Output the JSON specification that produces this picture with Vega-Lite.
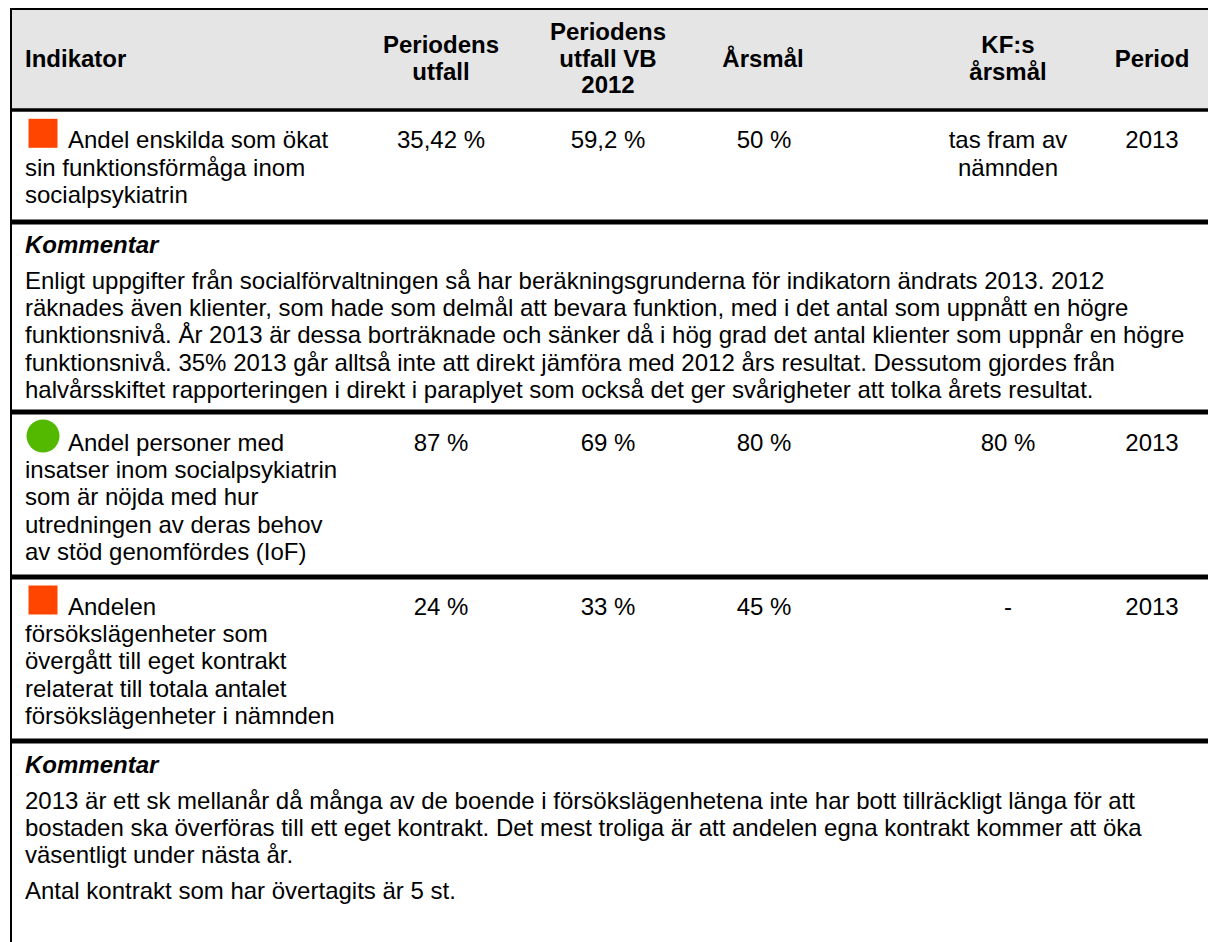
{
  "$schema": "https://vega.github.io/schema/vega-lite/v6.json",
  "width": 1198,
  "height": 934,
  "autosize": {"type": "none"},
  "padding": {"left": 10, "top": 8, "right": 0, "bottom": 0},
  "background": "#ffffff",
  "config": {"view": {"stroke": null}},
  "datasets": {
    "rubrikband": [{"fran": 0, "till": 1}],
    "granser": [
      {"grans": 0, "typ": "ram"},
      {"grans": 1, "typ": "rubrikgrans"},
      {"grans": 2, "typ": "radgrans"},
      {"grans": 3, "typ": "radgrans"},
      {"grans": 4, "typ": "radgrans"},
      {"grans": 5, "typ": "radgrans"}
    ],
    "vansterkant": [{"kant": 0}],
    "rubriker": [
      {"kolumn": 1, "antal_rader": 1, "text": "Indikator"},
      {"kolumn": 2, "antal_rader": 2, "text": "Periodens\nutfall"},
      {"kolumn": 3, "antal_rader": 3, "text": "Periodens\nutfall VB\n2012"},
      {"kolumn": 4, "antal_rader": 1, "text": "Årsmål"},
      {"kolumn": 5, "antal_rader": 2, "text": "KF:s\nårsmål"},
      {"kolumn": 6, "antal_rader": 1, "text": "Period"}
    ],
    "ikoner": [
      {"rad": 4, "kolumn": 1, "status": "Ej uppfyllt"},
      {"rad": 13, "kolumn": 1, "status": "Uppfyllt"},
      {"rad": 18, "kolumn": 1, "status": "Ej uppfyllt"}
    ],
    "celltext": [
      {"rad": 4, "kolumn": 1, "stil": "indikator_forsta", "text": "Andel enskilda som ökat"},
      {"rad": 5, "kolumn": 1, "stil": "brodtext", "text": "sin funktionsförmåga inom"},
      {"rad": 6, "kolumn": 1, "stil": "brodtext", "text": "socialpsykiatrin"},
      {"rad": 4, "kolumn": 2, "stil": "varde", "text": "35,42 %"},
      {"rad": 4, "kolumn": 3, "stil": "varde", "text": "59,2 %"},
      {"rad": 4, "kolumn": 4, "stil": "varde", "text": "50 %"},
      {"rad": 4, "kolumn": 5, "stil": "varde", "text": "tas fram av"},
      {"rad": 5, "kolumn": 5, "stil": "varde", "text": "nämnden"},
      {"rad": 4, "kolumn": 6, "stil": "varde", "text": "2013"},
      {"rad": 7, "kolumn": 1, "stil": "kommentar", "text": "Kommentar"},
      {"rad": 8, "kolumn": 1, "stil": "brodtext", "text": "Enligt uppgifter från socialförvaltningen så har beräkningsgrunderna för indikatorn ändrats 2013. 2012"},
      {"rad": 9, "kolumn": 1, "stil": "brodtext", "text": "räknades även klienter, som hade som delmål att bevara funktion, med i det antal som uppnått en högre"},
      {"rad": 10, "kolumn": 1, "stil": "brodtext", "text": "funktionsnivå. År 2013 är dessa borträknade och sänker då i hög grad det antal klienter som uppnår en högre"},
      {"rad": 11, "kolumn": 1, "stil": "brodtext", "text": "funktionsnivå. 35% 2013 går alltså inte att direkt jämföra med 2012 års resultat. Dessutom gjordes från"},
      {"rad": 12, "kolumn": 1, "stil": "brodtext", "text": "halvårsskiftet rapporteringen i direkt i paraplyet som också det ger svårigheter att tolka årets resultat."},
      {"rad": 13, "kolumn": 1, "stil": "indikator_forsta", "text": "Andel personer med"},
      {"rad": 14, "kolumn": 1, "stil": "brodtext", "text": "insatser inom socialpsykiatrin"},
      {"rad": 15, "kolumn": 1, "stil": "brodtext", "text": "som är nöjda med hur"},
      {"rad": 16, "kolumn": 1, "stil": "brodtext", "text": "utredningen av deras behov"},
      {"rad": 17, "kolumn": 1, "stil": "brodtext", "text": "av stöd genomfördes (IoF)"},
      {"rad": 13, "kolumn": 2, "stil": "varde", "text": "87 %"},
      {"rad": 13, "kolumn": 3, "stil": "varde", "text": "69 %"},
      {"rad": 13, "kolumn": 4, "stil": "varde", "text": "80 %"},
      {"rad": 13, "kolumn": 5, "stil": "varde", "text": "80 %"},
      {"rad": 13, "kolumn": 6, "stil": "varde", "text": "2013"},
      {"rad": 18, "kolumn": 1, "stil": "indikator_forsta", "text": "Andelen"},
      {"rad": 19, "kolumn": 1, "stil": "brodtext", "text": "försökslägenheter som"},
      {"rad": 20, "kolumn": 1, "stil": "brodtext", "text": "övergått till eget kontrakt"},
      {"rad": 21, "kolumn": 1, "stil": "brodtext", "text": "relaterat till totala antalet"},
      {"rad": 22, "kolumn": 1, "stil": "brodtext", "text": "försökslägenheter i nämnden"},
      {"rad": 18, "kolumn": 2, "stil": "varde", "text": "24 %"},
      {"rad": 18, "kolumn": 3, "stil": "varde", "text": "33 %"},
      {"rad": 18, "kolumn": 4, "stil": "varde", "text": "45 %"},
      {"rad": 18, "kolumn": 5, "stil": "varde", "text": "-"},
      {"rad": 18, "kolumn": 6, "stil": "varde", "text": "2013"},
      {"rad": 23, "kolumn": 1, "stil": "kommentar", "text": "Kommentar"},
      {"rad": 24, "kolumn": 1, "stil": "brodtext", "text": "2013 är ett sk mellanår då många av de boende i försökslägenhetena inte har bott tillräckligt länga för att"},
      {"rad": 25, "kolumn": 1, "stil": "brodtext", "text": "bostaden ska överföras till ett eget kontrakt. Det mest troliga är att andelen egna kontrakt kommer att öka"},
      {"rad": 26, "kolumn": 1, "stil": "brodtext", "text": "väsentligt under nästa år."},
      {"rad": 27, "kolumn": 1, "stil": "brodtext", "text": "Antal kontrakt som har övertagits är 5 st."}
    ]
  },
  "layer": [
    {
      "data": {"name": "rubrikband"},
      "mark": {"type": "rect", "color": "#e5e5e5"},
      "encoding": {
        "y": {"field": "fran", "type": "quantitative", "axis": null,
              "scale": {"type": "linear", "domain": [0, 1, 2, 3, 4, 5], "range": [1, 102, 214, 404, 569, 733], "zero": false, "nice": false}},
        "y2": {"field": "till"}
      }
    },
    {
      "data": {"name": "granser"},
      "mark": {"type": "rule", "color": "#000000"},
      "encoding": {
        "y": {"field": "grans", "type": "quantitative", "axis": null,
              "scale": {"type": "linear", "domain": [0, 1, 2, 3, 4, 5], "range": [1, 102, 214, 404, 569, 733], "zero": false, "nice": false}},
        "strokeWidth": {"field": "typ", "type": "nominal", "legend": null,
                        "scale": {"domain": ["ram", "rubrikgrans", "radgrans"], "range": [2, 5, 2]}}
      }
    },
    {
      "data": {"name": "vansterkant"},
      "mark": {"type": "rule", "color": "#000000", "strokeWidth": 2},
      "encoding": {
        "x": {"field": "kant", "type": "quantitative", "axis": null,
              "scale": {"type": "linear", "domain": [0, 1], "range": [1, 1198], "zero": false, "nice": false}}
      }
    },
    {
      "data": {"name": "rubriker"},
      "encoding": {
        "x": {"field": "kolumn", "type": "quantitative", "axis": null,
              "scale": {"type": "linear", "domain": [1, 2, 3, 4, 5, 6], "range": [15, 431, 598, 753, 998, 1142], "zero": false, "nice": false}},
        "y": {"field": "antal_rader", "type": "quantitative", "axis": null,
              "scale": {"type": "linear", "domain": [1, 3], "range": [39.7, 13], "zero": false, "nice": false}},
        "text": {"field": "text"}
      },
      "layer": [
        {
          "transform": [{"filter": "datum.kolumn == 1"}],
          "mark": {"type": "text", "font": "Liberation Sans", "fontSize": 24, "fontWeight": "bold", "align": "left", "baseline": "top", "lineBreak": "\n", "lineHeight": 26.5, "color": "#000000"}
        },
        {
          "transform": [{"filter": "datum.kolumn > 1"}],
          "mark": {"type": "text", "font": "Liberation Sans", "fontSize": 24, "fontWeight": "bold", "align": "center", "baseline": "top", "lineBreak": "\n", "lineHeight": 26.5, "color": "#000000"}
        }
      ]
    },
    {
      "encoding": {
        "x": {"field": "kolumn", "type": "quantitative", "axis": null,
              "scale": {"type": "linear", "domain": [1, 2, 3, 4, 5, 6], "range": [15, 431, 598, 754, 998, 1142], "zero": false, "nice": false}},
        "y": {"field": "rad", "type": "quantitative", "axis": null,
              "scale": {"type": "linear", "domain": [4, 6, 7, 8, 12, 13, 17, 18, 22, 23, 24, 26, 27],
                        "range": [140.3, 194.7, 245, 281, 389.8, 443, 551.8, 607, 715.8, 764.6, 800.6, 855, 891],
                        "zero": false, "nice": false}}
      },
      "layer": [
        {
          "data": {"name": "ikoner"},
          "mark": {"type": "point", "filled": true, "opacity": 1, "xOffset": 18, "yOffset": -15},
          "encoding": {
            "shape": {"field": "status", "type": "nominal", "legend": null,
                      "scale": {"domain": ["Ej uppfyllt", "Uppfyllt"], "range": ["square", "circle"]}},
            "color": {"field": "status", "type": "nominal", "legend": null,
                      "scale": {"domain": ["Ej uppfyllt", "Uppfyllt"], "range": ["#ff4500", "#52b800"]}},
            "size": {"field": "status", "type": "nominal", "legend": null,
                     "scale": {"domain": ["Ej uppfyllt", "Uppfyllt"], "range": [841, 1089]}}
          }
        },
        {
          "data": {"name": "celltext"},
          "transform": [{"filter": "datum.stil == 'indikator_forsta'"}],
          "mark": {"type": "text", "font": "Liberation Sans", "fontSize": 24, "align": "left", "baseline": "alphabetic", "dx": 43, "color": "#000000"},
          "encoding": {"text": {"field": "text"}}
        },
        {
          "data": {"name": "celltext"},
          "transform": [{"filter": "datum.stil == 'brodtext'"}],
          "mark": {"type": "text", "font": "Liberation Sans", "fontSize": 24, "align": "left", "baseline": "alphabetic", "color": "#000000"},
          "encoding": {"text": {"field": "text"}}
        },
        {
          "data": {"name": "celltext"},
          "transform": [{"filter": "datum.stil == 'varde'"}],
          "mark": {"type": "text", "font": "Liberation Sans", "fontSize": 24, "align": "center", "baseline": "alphabetic", "color": "#000000"},
          "encoding": {"text": {"field": "text"}}
        },
        {
          "data": {"name": "celltext"},
          "transform": [{"filter": "datum.stil == 'kommentar'"}],
          "mark": {"type": "text", "font": "Liberation Sans", "fontSize": 24, "fontWeight": "bold", "fontStyle": "italic", "align": "left", "baseline": "alphabetic", "color": "#000000"},
          "encoding": {"text": {"field": "text"}}
        }
      ]
    }
  ],
  "resolve": {"scale": {"x": "independent", "y": "independent", "strokeWidth": "independent"}}
}
